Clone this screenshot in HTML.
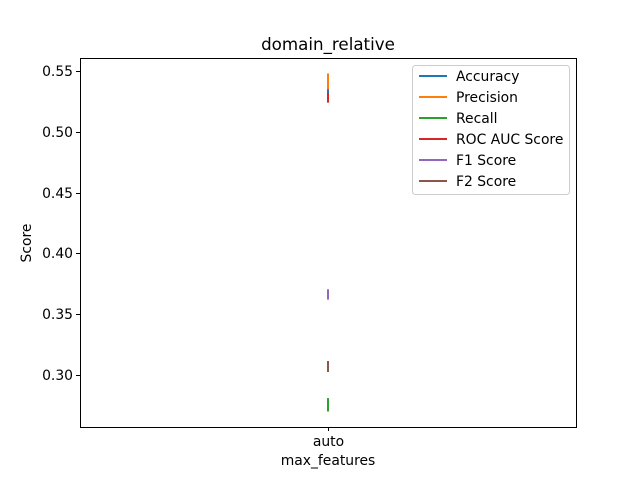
<!DOCTYPE html>
<html><head><meta charset="utf-8"><style>body{margin:0;background:#fff}svg{display:block;font-family:"DejaVu Sans","Liberation Sans",sans-serif}</style></head>
<body>
<svg id="chart" width="640" height="480">
<rect width="640" height="480" fill="#fff"/>
<text x="328" y="50" font-size="16.7" text-anchor="middle">domain_relative</text>
<g id="marks"></g>
<rect x="80.5" y="58.5" width="496" height="369" fill="none" stroke="#000" stroke-width="1"/>
<g id="axes"></g>
<text x="328" y="465" font-size="13.9" text-anchor="middle">max_features</text>
<text transform="translate(31,243) rotate(-90)" font-size="13.9" text-anchor="middle">Score</text>
<g>
<rect x="412.5" y="65.5" width="157" height="129" rx="3" fill="#fff" stroke="#ccc"/>
<g id="legend"></g>
</g>
</svg>
<script>
const categories = ["auto"];
const seriesNames = ["Accuracy","Precision","Recall","ROC AUC Score","F1 Score","F2 Score"];
const seriesColors = ["#1f77b4","#ff7f0e","#2ca02c","#d62728","#9467bd","#8c564b"];
const seriesMin = [0.530,0.535,0.270,0.524,0.362,0.3025];
const seriesMax = [0.536,0.548,0.281,0.532,0.3705,0.3115];
const yTicks = [0.30,0.35,0.40,0.45,0.50,0.55];
const yTickLabels = ["0.30","0.35","0.40","0.45","0.50","0.55"];

const NS="http://www.w3.org/2000/svg";
function yScale(v){return 71 + (0.55 - v)*1216;}
function xScale(i){return 328 + (i-(categories.length-1)/2)*200;}
function mk(tag,attrs,parent){const e=document.createElementNS(NS,tag);for(const k in attrs)e.setAttribute(k,attrs[k]);parent.appendChild(e);return e;}
const axes=document.getElementById('axes'), marks=document.getElementById('marks'), legend=document.getElementById('legend');
yTicks.forEach((t,i)=>{
  const y=Math.round(yScale(t))+0.5;
  const tk=mk('line',{x1:76,x2:80,y1:y,y2:y,stroke:'#000'},axes);
  
  
  const tx=mk('text',{x:73,y:y+4.5,'font-size':13.9,'text-anchor':'end'},axes);
  tx.textContent=yTickLabels[i];
  
  
});
categories.forEach((c,i)=>{
  const x=xScale(i)+0.5;
  const tk=mk('line',{x1:x,x2:x,y1:427,y2:431,stroke:'#000'},axes);
  
  
  const tx=mk('text',{x:x,y:446,'font-size':13.9,'text-anchor':'middle'},axes);
  tx.textContent=c;
  
  
});
seriesNames.forEach((n,s)=>{
  categories.forEach((c,i)=>{
    const x=xScale(i);
    const l=mk('line',{x1:x,x2:x,y1:yScale(seriesMin[s]),y2:yScale(seriesMax[s]),stroke:seriesColors[s],'stroke-width':2},marks);
    
    
  });
  const ly=76+s*21;
  const ll=mk('line',{x1:419,x2:447,y1:ly,y2:ly,stroke:seriesColors[s],'stroke-width':2},legend);
  
  
  const lt=mk('text',{x:456,y:ly+5,'font-size':13.9},legend);
  lt.textContent=n;
  
  
});
</script>
</body></html>
